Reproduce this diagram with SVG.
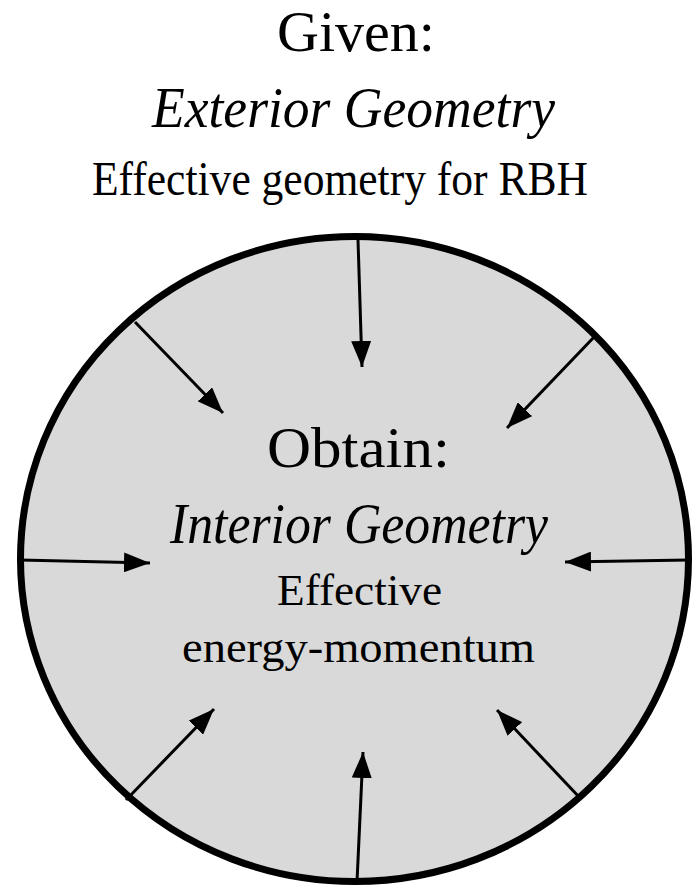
<svg xmlns="http://www.w3.org/2000/svg" width="696" height="887" viewBox="0 0 696 887">
<style>
text{font-family:'Liberation Serif','Times New Roman',serif;fill:#000;text-anchor:middle}
.i{font-style:italic}
.c{stroke:#000;stroke-width:3;fill:none;marker-end:url(#ah)}
</style>
<defs>
<marker id="ah" markerUnits="userSpaceOnUse" markerWidth="28" markerHeight="20" refX="26" refY="10" orient="auto">
<path d="M0,0 L26,10 L0,20 Z" fill="#000"/>
</marker>
</defs>
<rect width="696" height="887" fill="#fff"/>
<g id="given">
<text font-family="Liberation Serif, serif" x="356" y="51" font-size="57" textLength="158" lengthAdjust="spacingAndGlyphs">Given:</text>
<text font-family="Liberation Serif, serif" class="i" x="353.5" y="127" font-size="57" textLength="403" lengthAdjust="spacingAndGlyphs">Exterior Geometry</text>
<text font-family="Liberation Serif, serif" x="340" y="195" font-size="48" textLength="496" lengthAdjust="spacingAndGlyphs">Effective geometry for RBH</text>
</g>
<g id="region">
<ellipse cx="354.5" cy="559" rx="334" ry="322.5" fill="#d9d9d9" stroke="#000" stroke-width="7"/>
</g>
<g id="connectors">
<line class="c" x1="358" y1="240" x2="362" y2="367"/>
<line class="c" x1="135" y1="322" x2="223" y2="413"/>
<line class="c" x1="596" y1="335" x2="507" y2="428"/>
<line class="c" x1="20" y1="560" x2="150" y2="563"/>
<line class="c" x1="689" y1="560" x2="565" y2="562"/>
<line class="c" x1="126" y1="800" x2="214" y2="709"/>
<line class="c" x1="357" y1="882" x2="363" y2="752"/>
<line class="c" x1="580" y1="798" x2="497" y2="710"/>
</g>
<g id="obtain">
<text font-family="Liberation Serif, serif" x="358.5" y="467" font-size="57" textLength="183" lengthAdjust="spacingAndGlyphs">Obtain:</text>
<text font-family="Liberation Serif, serif" class="i" x="359" y="543" font-size="58" textLength="378" lengthAdjust="spacingAndGlyphs">Interior Geometry</text>
<text font-family="Liberation Serif, serif" x="359.5" y="605" font-size="44" textLength="165" lengthAdjust="spacingAndGlyphs">Effective</text>
<text font-family="Liberation Serif, serif" x="358.5" y="662" font-size="44" textLength="353" lengthAdjust="spacingAndGlyphs">energy-momentum</text>
</g>
</svg>
